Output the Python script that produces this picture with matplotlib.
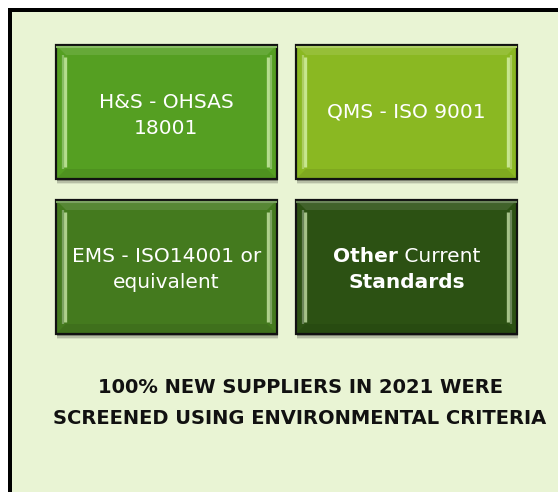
import matplotlib.pyplot as plt
from matplotlib.patches import Rectangle, Polygon
from matplotlib.colors import to_rgb
import numpy as np

# box texts: each line is a list of (text, weight) pieces
box_lines = [
    [[("H&S - OHSAS", "normal")], [("18001", "normal")]],
    [[("QMS - ISO 9001", "normal")]],
    [[("EMS - ISO14001 or", "normal")], [("equivalent", "normal")]],
    [[("Other", "bold"), (" Current", "normal")], [("Standards", "bold")]],
]
box_colors = ["#559F22", "#8AB822", "#447A1E", "#2C5113"]
footer = ["100% NEW SUPPLIERS IN 2021 WERE", "SCREENED USING ENVIRONMENTAL CRITERIA"]

W, H = 558, 492
fig = plt.figure(figsize=(W / 100, H / 100), dpi=100)
ax = fig.add_axes([0, 0, 1, 1])
ax.set_xlim(0, W)
ax.set_ylim(H, 0)
ax.axis("off")
fig.patch.set_facecolor("white")


def mix(c, other, t):
    c = np.array(to_rgb(c))
    o = np.array(to_rgb(other))
    return tuple(c * (1 - t) + o * t)


# outer panel
ax.add_patch(Rectangle((10, 10), 600, 600, facecolor="#E9F4D4",
                       edgecolor="black", linewidth=4 * 0.72))

bx = [56, 296]
by = [45, 200]
bw, bh, b = 221, 134, 10

for i, (lines, col) in enumerate(zip(box_lines, box_colors)):
    x = bx[i % 2]
    y = by[i // 2]
    # shadow
    for k, a in enumerate([0.25, 0.15, 0.08]):
        ax.add_patch(Rectangle((x + 1, y + 2 + k * 1.5), bw, bh,
                               facecolor="black", alpha=a, linewidth=0))
    ax.add_patch(Rectangle((x, y), bw, bh, facecolor=col, edgecolor="none"))
    # bevel
    ax.add_patch(Polygon([(x, y), (x + bw, y), (x + bw - b, y + b), (x + b, y + b)],
                         closed=True, facecolor=mix(col, "white", 0.1), linewidth=0))
    ax.add_patch(Polygon([(x, y + bh), (x + bw, y + bh), (x + bw - b, y + bh - b), (x + b, y + bh - b)],
                         closed=True, facecolor=mix(col, "black", 0.08), linewidth=0))
    ax.plot([x + 1, x + bw - 1], [y + 2, y + 2], color=mix(col, "white", 0.3), lw=1.5)
    # highlight strips
    for side in [-1, 1]:
        hx = x + b - 1 if side < 0 else x + bw - b + 1
        ax.plot([hx, hx], [y + b + 2, y + bh - b - 2], color=mix(col, "#E8FFC8", 0.65),
                lw=2.4, solid_capstyle="butt")
        ax.plot([hx + side * 2.5] * 2, [y + b, y + bh - b],
                color=mix(col, "white", 0.3), lw=1.6, solid_capstyle="butt")
    ax.add_patch(Rectangle((x, y), bw, bh, facecolor="none", edgecolor="#111111",
                           linewidth=1.6))

    cx = x + bw / 2
    cy = y + bh / 2
    n = len(lines)
    base = [cy + 5] if n == 1 else [cy - 4.5, cy + 21.5]
    for line, yl in zip(lines, base):
        texts = [ax.text(0, yl, s, color="white", fontsize=14.5, fontweight=wt,
                         family="DejaVu Sans", ha="left", va="baseline")
                 for s, wt in line]
        fig.canvas.draw()
        renderer = fig.canvas.get_renderer()
        widths = [t.get_window_extent(renderer).width for t in texts]
        xs = cx - sum(widths) / 2
        for t, wd in zip(texts, widths):
            t.set_x(xs)
            xs += wd

for s, yl in zip(footer, [393, 424]):
    ax.text(300, yl, s, color="#111111", fontsize=14, fontweight="bold",
            family="DejaVu Sans", ha="center", va="baseline")

fig.savefig("out.png", dpi=100)
